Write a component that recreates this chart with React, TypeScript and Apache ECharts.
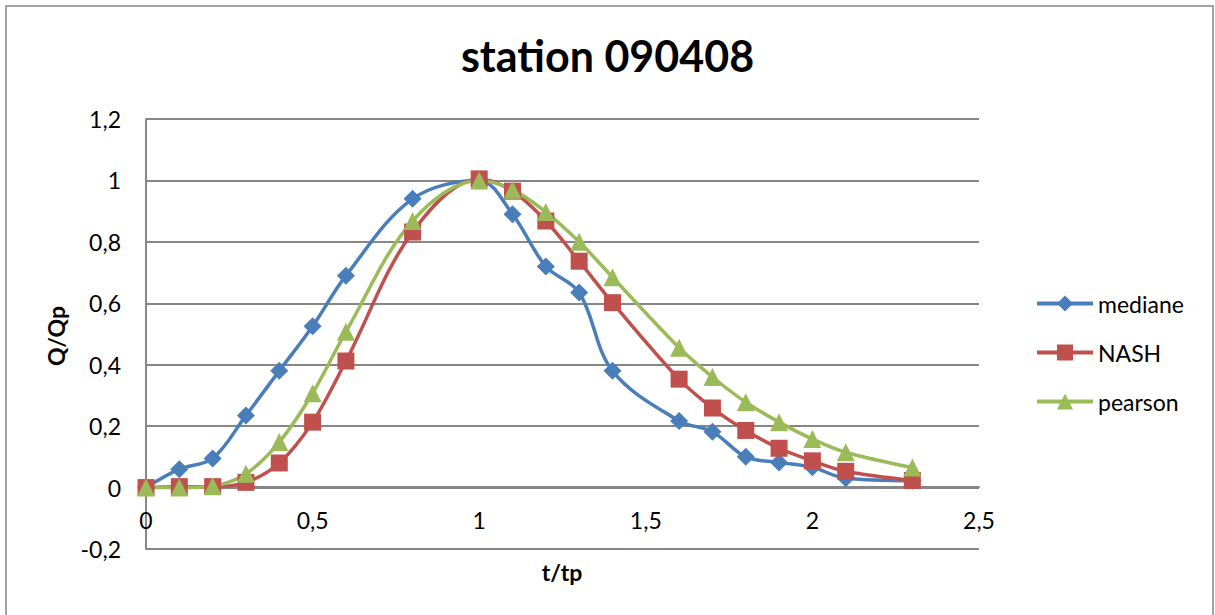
import React, { useEffect, useRef } from "react";
import * as echarts from "echarts";

const tValues = [0, 0.1, 0.2, 0.3, 0.4, 0.5, 0.6, 0.8, 1.0, 1.1, 1.2, 1.3, 1.4, 1.6, 1.7, 1.8, 1.9, 2.0, 2.1, 2.3];
const mediane = [0, 0.06, 0.095, 0.235, 0.38, 0.525, 0.69, 0.94, 1.0, 0.89, 0.72, 0.635, 0.38, 0.217, 0.182, 0.1, 0.082, 0.066, 0.03, 0.022];
const nash = [0, 0.003, 0.003, 0.017, 0.08, 0.213, 0.412, 0.832, 1.005, 0.965, 0.868, 0.737, 0.602, 0.353, 0.259, 0.186, 0.128, 0.087, 0.053, 0.023];
const pearson = [0, 0, 0.005, 0.045, 0.148, 0.307, 0.507, 0.868, 1.0, 0.97, 0.897, 0.8, 0.685, 0.455, 0.36, 0.278, 0.213, 0.158, 0.115, 0.065];

const seriesNames = ["mediane", "NASH", "pearson"];
const titleText = "station 090408";
const xTitle = "t/tp";
const yTitle = "Q/Qp";

const FONT = "Lato, 'Open Sans', sans-serif";

const fmt = (v: number) => String(Math.round(v * 10) / 10).replace(".", ",");

export default function App() {
  const ref = useRef<HTMLDivElement>(null);
  useEffect(() => {
    if (!ref.current) return;
    const chart = echarts.init(ref.current, undefined, { renderer: "svg" });
    const pair = (ys: number[]) => tValues.map((t, i) => [t, ys[i]]);
    const common = {
      type: "line" as const,
      smooth: 0.35,
    };
    chart.setOption({
      animation: false,
      backgroundColor: "#fff",
      textStyle: { fontFamily: FONT },
      title: {
        text: titleText,
        left: "center",
        top: 29,
        textStyle: { fontFamily: FONT, fontSize: 43, fontWeight: "bold", color: "#000" },
      },
      legend: {
        orient: "vertical",
        left: 1035,
        top: 292,
        padding: 0,
        itemWidth: 56,
        itemHeight: 20,
        itemGap: 26,
        lineStyle: { width: 4 },
        textStyle: { fontFamily: FONT, fontSize: 23, color: "#000" },
        data: seriesNames,
      },
      grid: { left: 146, top: 119, right: 236, bottom: 66 },
      xAxis: {
        type: "value",
        min: 0,
        max: 2.5,
        interval: 0.5,
        offset: -62,
        splitLine: { show: false },
        axisTick: { show: false },
        axisLine: { show: true, onZero: false, lineStyle: { color: "#868686", width: 2 } },
        axisLabel: { formatter: fmt, fontSize: 23, color: "#000", margin: 21, fontFamily: FONT },
      },
      yAxis: {
        type: "value",
        min: -0.2,
        max: 1.2,
        interval: 0.2,
        axisTick: { show: false },
        axisLine: { show: true, onZero: false, lineStyle: { color: "#868686", width: 2 } },
        splitLine: { lineStyle: { color: "#868686", width: 2 } },
        axisLabel: { formatter: fmt, fontSize: 23, color: "#000", margin: 25, fontFamily: FONT },
      },
      graphic: [
        {
          type: "rect",
          shape: { x: 6, y: 6, width: 1207, height: 640 },
          style: { fill: "none", stroke: "#868686", lineWidth: 1.5 },
          silent: true,
        },
        {
          type: "text",
          x: 562,
          y: 572,
          style: {
            text: xTitle,
            fontFamily: FONT,
            fontSize: 23,
            fontWeight: "bold",
            fill: "#000",
            align: "center",
            verticalAlign: "middle",
          },
        },
        {
          type: "text",
          x: 56,
          y: 336,
          rotation: Math.PI / 2,
          style: {
            text: yTitle,
            fontFamily: FONT,
            fontSize: 23,
            fontWeight: "bold",
            fill: "#000",
            align: "center",
            verticalAlign: "middle",
          },
        },
      ],
      series: [
        {
          ...common,
          name: seriesNames[0],
          data: pair(mediane),
          symbol: "diamond",
          symbolSize: 18,
          itemStyle: { color: "#4A7EBB" },
          lineStyle: { width: 3.5, color: "#4A7EBB" },
        },
        {
          ...common,
          name: seriesNames[1],
          data: pair(nash),
          symbol: "rect",
          symbolSize: 17,
          itemStyle: { color: "#C0504D" },
          lineStyle: { width: 3.5, color: "#C0504D" },
        },
        {
          ...common,
          name: seriesNames[2],
          data: pair(pearson),
          symbol: "triangle",
          symbolSize: 18,
          itemStyle: { color: "#9BBB59" },
          lineStyle: { width: 3.5, color: "#9BBB59" },
        },
      ],
    });
    return () => chart.dispose();
  }, []);
  return (
    <div
      ref={ref}
      style={{ position: "fixed", left: 0, top: 0, width: 1215, height: 615 }}
    />
  );
}
